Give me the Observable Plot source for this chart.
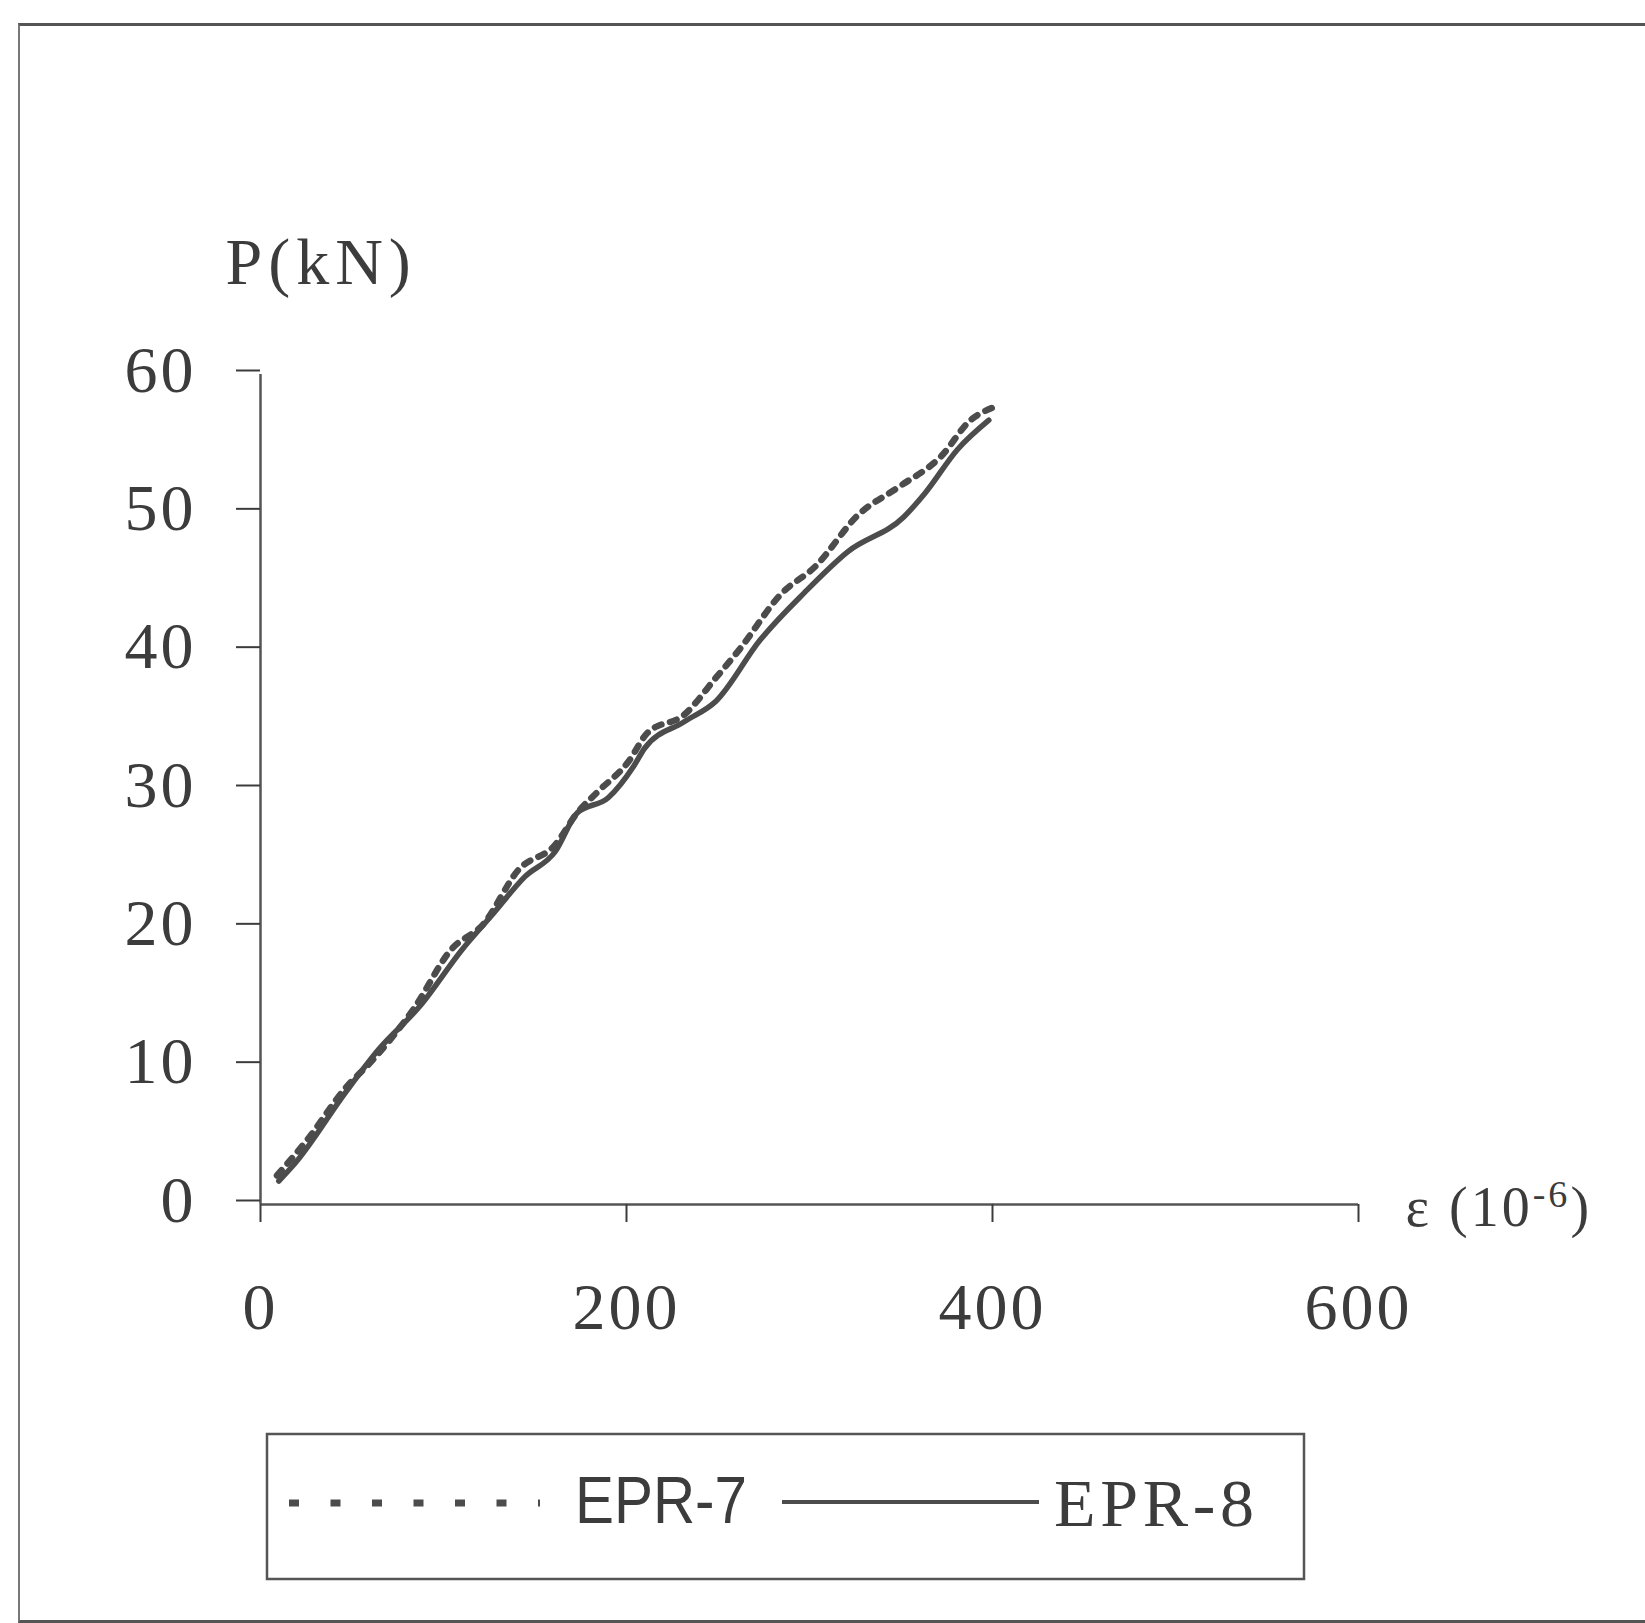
<!DOCTYPE html>
<html>
<head>
<meta charset="utf-8">
<script src="https://cdn.jsdelivr.net/npm/d3@7"></script>
<script src="https://cdn.jsdelivr.net/npm/@observablehq/plot@0.6"></script>
<style>
  html, body { margin: 0; padding: 0; background: #fff; }
  body { position: relative; width: 1645px; height: 1623px; overflow: hidden; }
  #frame { position: absolute; left: 18px; top: 23px; width: 1640px; height: 1594px;
           border-left: 2px solid #777; border-top: 3px solid #555; border-bottom: 3px solid #555; }
  #chart { position: absolute; left: 0; top: 0; }
  #legend { position: absolute; left: 0; top: 1420px; }
  #chart svg text { letter-spacing: 3px; }
</style>
</head>
<body>
<div id="frame"></div>
<div id="chart"></div>
<div id="legend"></div>
<script>
// ---- data ----
const xTicks = [0, 200, 400, 600];
const yTicks = [0, 10, 20, 30, 40, 50, 60];
const xLabelBase = "ε (10";
const xLabelExp = "-6";
const yLabel = "P(kN)";
const seriesNames = ["EPR-7", "EPR-8"];

// EPR-7 (dotted)
const epr7Strain = [9, 24.5, 47, 61, 84, 104, 122, 141, 161, 173, 184, 201, 211.5, 231.5, 249, 261, 285, 303, 327, 348, 372, 388, 400];
const epr7Load   = [2.1, 4.5, 8.5, 10.4, 14.2, 18.4, 20.3, 24.2, 26, 28.3, 29.8, 32, 34.1, 35.4, 38.1, 40, 44.2, 46.1, 49.9, 51.8, 54.1, 56.7, 57.6];

// EPR-8 (solid)
const epr8Strain = [10, 19, 47, 64.5, 87.5, 110, 127, 144.5, 161, 173, 190, 204, 210, 231.5, 249, 273, 297, 321, 351.5, 363, 381, 398];
const epr8Load   = [1.7, 3, 8.2, 11.2, 14.4, 18.4, 21, 23.7, 25.5, 28.3, 29.4, 31.7, 33, 34.9, 36.4, 40.8, 44.2, 47.2, 49.7, 51.4, 54.6, 56.7];

const epr7 = epr7Strain.map((s, i) => ({strain: s, load: epr7Load[i]}));
const epr8 = epr8Strain.map((s, i) => ({strain: s, load: epr8Load[i]}));

const ink = "#3c3c3c";
const serif = "'Liberation Serif', 'Times New Roman', serif";
const xLabelFull = xLabelBase + xLabelExp + ")";

const chart = Plot.plot({
  width: 1645,
  height: 1420,
  marginLeft: 260,
  marginRight: 287,
  marginTop: 374,
  marginBottom: 216,
  x: {domain: [0, 600]},
  y: {domain: [0, 60]},
  style: {background: "transparent", color: ink, fontFamily: serif, overflow: "visible"},
  marks: [
    Plot.ruleY([0], {stroke: "#555", strokeWidth: 2.5}),
    Plot.ruleX([0], {stroke: "#555", strokeWidth: 2.5}),
    Plot.axisY({ticks: yTicks, tickSize: 24, tickPadding: 40, fontSize: 66, label: null, strokeWidth: 2, dy: -4}),
    Plot.axisX({ticks: xTicks, tickSize: 18, tickPadding: 60, fontSize: 66, label: null, strokeWidth: 2}),
    Plot.line(epr8, {x: "strain", y: "load", stroke: "#4c4c4c", strokeWidth: 5.5, curve: "monotone-x"}),
    Plot.line(epr7, {x: "strain", y: "load", stroke: "#4c4c4c", strokeWidth: 6.5, strokeDasharray: "7,9", curve: "monotone-x"}),
    Plot.text([yLabel], {frameAnchor: "top-left", textAnchor: "start", lineAnchor: "bottom", dx: -35, dy: -91, fontSize: 66, fill: ink}),
    Plot.text([xLabelFull], {frameAnchor: "bottom-right", textAnchor: "start", lineAnchor: "middle", dx: 47, dy: 4, fontSize: 56, fill: ink})
  ]
});
document.getElementById("chart").appendChild(chart);

// y label letter spacing
d3.select(chart).selectAll("text").filter(function () { return this.textContent === yLabel; })
  .style("letter-spacing", "6px");

// superscript in the x label
const xl = d3.select(chart).selectAll("text").filter(function () { return this.textContent === xLabelFull; });
xl.text(null);
xl.append("tspan").text(xLabelBase);
xl.append("tspan").attr("dy", "-0.5em").attr("font-size", "0.68em").text(xLabelExp);
xl.append("tspan").attr("dy", "0.34em").text(")");

// ---- legend (below the plot svg) ----
const lg = d3.select("#legend").append("svg").attr("width", 1645).attr("height", 203);
const oy = 1420;
lg.append("rect").attr("x", 267).attr("y", 1434 - oy).attr("width", 1037).attr("height", 145)
  .attr("fill", "none").attr("stroke", "#555").attr("stroke-width", 2.5);
lg.append("line").attr("x1", 289).attr("x2", 540).attr("y1", 1503 - oy).attr("y2", 1503 - oy)
  .attr("stroke", "#4c4c4c").attr("stroke-width", 7).attr("stroke-dasharray", "10,31.5");
lg.append("text").attr("x", 575).attr("y", 1523 - oy).text(seriesNames[0])
  .attr("font-family", "'Liberation Sans Narrow', 'Liberation Sans', Arial, sans-serif")
  .attr("font-size", 66).attr("fill", ink)
  .attr("textLength", 172).attr("lengthAdjust", "spacingAndGlyphs");
lg.append("line").attr("x1", 782).attr("x2", 1039).attr("y1", 1502 - oy).attr("y2", 1502 - oy)
  .attr("stroke", "#4c4c4c").attr("stroke-width", 4);
lg.append("text").attr("x", 1054).attr("y", 1526 - oy).text(seriesNames[1])
  .attr("font-family", serif).attr("font-size", 68).attr("fill", ink)
  .attr("textLength", 200).attr("lengthAdjust", "spacing");
</script>
</body>
</html>
